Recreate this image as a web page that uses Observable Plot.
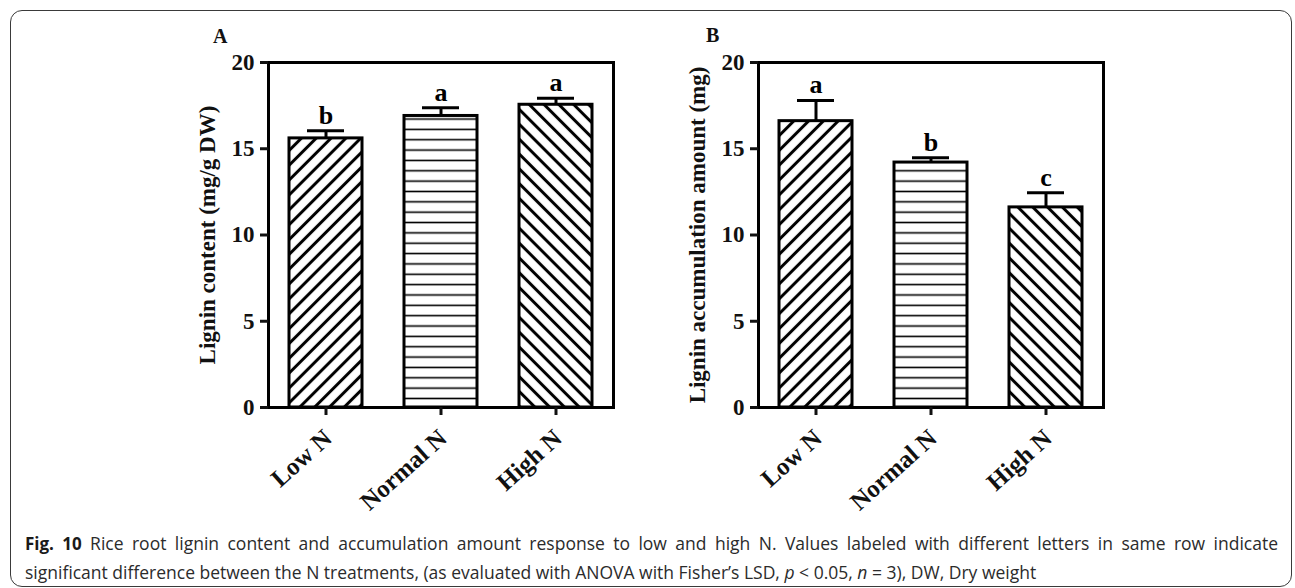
<!DOCTYPE html>
<html>
<head>
<meta charset="utf-8">
<script src="https://cdn.jsdelivr.net/npm/d3@7"></script>
<script src="https://cdn.jsdelivr.net/npm/@observablehq/plot@0.6"></script>
<style>
  html, body { margin: 0; padding: 0; background: #fff; }
  #fig { position: relative; width: 1295px; height: 588px; overflow: hidden; }
  #border { position: absolute; left: 10px; top: 10px; width: 1282px; height: 577px; box-sizing: border-box;
            border: 1.3px solid #3a3a3a; border-radius: 12px; }
  .panel { position: absolute; top: 0; }
  .plabel { position: absolute; font-family: "Liberation Serif", serif; font-weight: bold; font-size: 20px; color: #111; }
  .capline { position: absolute; left: 25px; width: 1253px; font-family: "Open Sans", sans-serif;
         font-size: 17.5px; line-height: 26px; color: #2b2b2b; white-space: nowrap; }
  .capline b { font-size: 17px; color: #1a1a1a; }
  #cap1 { top: 530px; text-align: justify; text-align-last: justify; white-space: normal; }
  #cap2 { top: 559px; }
</style>
</head>
<body>
<div id="fig">
  <div id="border"></div>
  <div id="panelA" class="panel" style="left:150px"></div>
  <div id="panelB" class="panel" style="left:640px"></div>
  <div class="plabel" style="left:213px;top:25px">A</div>
  <div class="plabel" style="left:706px;top:24px">B</div>
  <div id="cap1" class="capline"><b>Fig. 10</b> Rice root lignin content and accumulation amount response to low and high N. Values labeled with different letters in same row indicate</div>
  <div id="cap2" class="capline">significant difference between the N treatments, (as evaluated with ANOVA with Fisher’s LSD, <i>p</i> &lt; 0.05, <i>n</i> = 3), DW, Dry weight</div>
</div>
<script>
// ---- data ----
const categories = ["Low N", "Normal N", "High N"];
const contentMean = [15.6, 16.9, 17.55];
const contentErr = [0.45, 0.48, 0.38];
const contentLetters = ["b", "a", "a"];
const accumMean = [16.6, 14.2, 11.6];
const accumErr = [1.2, 0.28, 0.85];
const accumLetters = ["a", "b", "c"];
const yTicks = [0, 5, 10, 15, 20];
const yLabelA = "Lignin content (mg/g DW)";
const yLabelB = "Lignin accumulation amount (mg)";

const patternKinds = ["fwd", "horiz", "back"];

function makeDefs(prefix) {
  const ns = "http://www.w3.org/2000/svg";
  const defs = document.createElementNS(ns, "defs");
  const specs = {
    fwd:   {size: 10.5, rot: -45, sw: 3},
    horiz: {size: 10.35, rot: 0, sw: 1.6},
    back:  {size: 10.5, rot: 45, sw: 3}
  };
  for (const k of patternKinds) {
    const s = specs[k];
    const p = document.createElementNS(ns, "pattern");
    p.setAttribute("id", prefix + "-" + k);
    p.setAttribute("patternUnits", "userSpaceOnUse");
    p.setAttribute("width", s.size);
    p.setAttribute("height", s.size);
    if (s.rot) p.setAttribute("patternTransform", `rotate(${s.rot})`);
    const r = document.createElementNS(ns, "rect");
    r.setAttribute("width", s.size); r.setAttribute("height", s.size); r.setAttribute("fill", "white");
    p.appendChild(r);
    const l = document.createElementNS(ns, "line");
    l.setAttribute("x1", -1); l.setAttribute("x2", s.size + 1);
    l.setAttribute("y1", s.size / 2); l.setAttribute("y2", s.size / 2);
    l.setAttribute("stroke", "black"); l.setAttribute("stroke-width", s.sw);
    p.appendChild(l);
    defs.appendChild(p);
  }
  return defs;
}

function panel(prefix, means, errs, letters, ylabel) {
  const data = categories.map((c, i) => ({
    cat: c, val: means[i], err: errs[i], top: means[i] + errs[i], letter: letters[i],
    fill: `url(#${prefix}-${patternKinds[i]})`
  }));
  const svg = Plot.plot({
    width: 480,
    height: 500,
    marginLeft: 118,
    marginRight: 17,
    marginTop: 62,
    marginBottom: 93,
    style: {fontFamily: "'Liberation Serif', serif", fontWeight: "bold", fontSize: "23px", color: "#111", background: "transparent", overflow: "visible"},
    x: {domain: categories, paddingInner: 0.365, paddingOuter: 0.18, label: null},
    y: {domain: [0, 20], label: null},
    color: {type: "identity"},
    marks: [
      Plot.barY(data, {x: "cat", y: "val", fill: "fill", stroke: "#000", strokeWidth: 3}),
      Plot.ruleX(data, {x: "cat", y1: "val", y2: "top", stroke: "#000", strokeWidth: 3}),
      Plot.tickY(data, {x: "cat", y: "top", stroke: "#000", strokeWidth: 3, insetLeft: 18, insetRight: 18}),
      Plot.text(data, {x: "cat", y: "top", text: "letter", lineAnchor: "bottom", dy: -7, fontSize: 26, fontWeight: "bold", fill: "#000"}),
      Plot.frame({stroke: "#000", strokeWidth: 3}),
      Plot.axisY({ticks: yTicks, tickSize: 8, strokeWidth: 3, tickPadding: 6, fontSize: 23, fontWeight: "bold",
                  label: ylabel, labelAnchor: "center", labelOffset: 70, labelArrow: "none"}),
      Plot.axisX({tickSize: 8, strokeWidth: 3, tickFormat: null, label: null}),
      Plot.axisX({tickSize: 0, tickPadding: 4, tickRotate: -42, fontSize: 25, fontWeight: "bold", label: null, dx: 2, dy: 23})
    ]
  });
  svg.insertBefore(makeDefs(prefix), svg.firstChild);
  return svg;
}

document.getElementById("panelA").appendChild(panel("pA", contentMean, contentErr, contentLetters, yLabelA));
document.getElementById("panelB").appendChild(panel("pB", accumMean, accumErr, accumLetters, yLabelB));
</script>
</body>
</html>
